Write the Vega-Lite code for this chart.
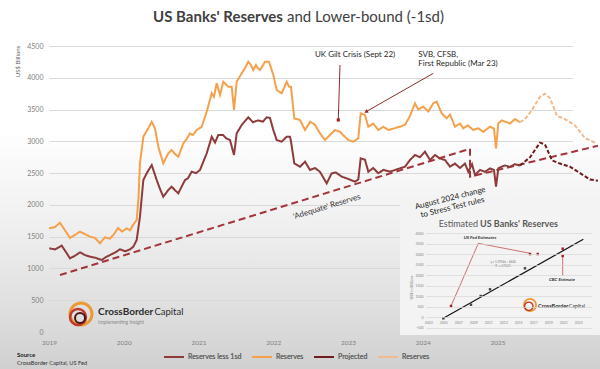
{
"$schema":"https://vega.github.io/schema/vega-lite/v6.json",
"width":600,"height":369,"autosize":"none","padding":0,
"background":"#d4d4d4",
"config":{"view":{"stroke":null,"fill":{"gradient":"linear","x1":0,"y1":0,"x2":0,"y2":1,"stops":[{"offset":0,"color":"#ffffff"},{"offset":0.35,"color":"#ffffff"},{"offset":0.6,"color":"#f0f0f0"},{"offset":0.85,"color":"#dedede"},{"offset":1,"color":"#d0d0d0"}]}},"font":"Lato","text":{"font":"Lato"}},
"datasets":{
"main":[
{"s":"Reserves less 1sd","t":2019.004,"v":1317},{"s":"Reserves less 1sd","t":2019.080,"v":1300},{"s":"Reserves less 1sd","t":2019.170,"v":1358},{"s":"Reserves less 1sd","t":2019.214,"v":1280},{"s":"Reserves less 1sd","t":2019.281,"v":1159},{"s":"Reserves less 1sd","t":2019.348,"v":1200},{"s":"Reserves less 1sd","t":2019.415,"v":1254},{"s":"Reserves less 1sd","t":2019.482,"v":1210},{"s":"Reserves less 1sd","t":2019.548,"v":1185},{"s":"Reserves less 1sd","t":2019.615,"v":1170},{"s":"Reserves less 1sd","t":2019.705,"v":1133},{"s":"Reserves less 1sd","t":2019.763,"v":1180},{"s":"Reserves less 1sd","t":2019.816,"v":1211},{"s":"Reserves less 1sd","t":2019.883,"v":1250},{"s":"Reserves less 1sd","t":2019.950,"v":1301},{"s":"Reserves less 1sd","t":2020.017,"v":1270},{"s":"Reserves less 1sd","t":2020.084,"v":1300},{"s":"Reserves less 1sd","t":2020.128,"v":1342},{"s":"Reserves less 1sd","t":2020.173,"v":1447},{"s":"Reserves less 1sd","t":2020.217,"v":1814},{"s":"Reserves less 1sd","t":2020.262,"v":2391},{"s":"Reserves less 1sd","t":2020.307,"v":2497},{"s":"Reserves less 1sd","t":2020.374,"v":2627},{"s":"Reserves less 1sd","t":2020.441,"v":2391},{"s":"Reserves less 1sd","t":2020.485,"v":2250},{"s":"Reserves less 1sd","t":2020.529,"v":2129},{"s":"Reserves less 1sd","t":2020.596,"v":2234},{"s":"Reserves less 1sd","t":2020.641,"v":2286},{"s":"Reserves less 1sd","t":2020.686,"v":2230},{"s":"Reserves less 1sd","t":2020.730,"v":2182},{"s":"Reserves less 1sd","t":2020.819,"v":2391},{"s":"Reserves less 1sd","t":2020.860,"v":2420},{"s":"Reserves less 1sd","t":2020.909,"v":2522},{"s":"Reserves less 1sd","t":2020.967,"v":2500},{"s":"Reserves less 1sd","t":2021.020,"v":2549},{"s":"Reserves less 1sd","t":2021.110,"v":2812},{"s":"Reserves less 1sd","t":2021.177,"v":3073},{"s":"Reserves less 1sd","t":2021.221,"v":2980},{"s":"Reserves less 1sd","t":2021.265,"v":3100},{"s":"Reserves less 1sd","t":2021.328,"v":3100},{"s":"Reserves less 1sd","t":2021.368,"v":3050},{"s":"Reserves less 1sd","t":2021.421,"v":3021},{"s":"Reserves less 1sd","t":2021.475,"v":2785},{"s":"Reserves less 1sd","t":2021.511,"v":3126},{"s":"Reserves less 1sd","t":2021.578,"v":3257},{"s":"Reserves less 1sd","t":2021.666,"v":3378},{"s":"Reserves less 1sd","t":2021.729,"v":3300},{"s":"Reserves less 1sd","t":2021.796,"v":3330},{"s":"Reserves less 1sd","t":2021.863,"v":3310},{"s":"Reserves less 1sd","t":2021.912,"v":3378},{"s":"Reserves less 1sd","t":2021.956,"v":3370},{"s":"Reserves less 1sd","t":2022.001,"v":3178},{"s":"Reserves less 1sd","t":2022.046,"v":3021},{"s":"Reserves less 1sd","t":2022.113,"v":2995},{"s":"Reserves less 1sd","t":2022.180,"v":3073},{"s":"Reserves less 1sd","t":2022.224,"v":3073},{"s":"Reserves less 1sd","t":2022.237,"v":3000},{"s":"Reserves less 1sd","t":2022.282,"v":2654},{"s":"Reserves less 1sd","t":2022.358,"v":2600},{"s":"Reserves less 1sd","t":2022.425,"v":2680},{"s":"Reserves less 1sd","t":2022.492,"v":2549},{"s":"Reserves less 1sd","t":2022.559,"v":2580},{"s":"Reserves less 1sd","t":2022.625,"v":2520},{"s":"Reserves less 1sd","t":2022.715,"v":2339},{"s":"Reserves less 1sd","t":2022.782,"v":2497},{"s":"Reserves less 1sd","t":2022.839,"v":2510},{"s":"Reserves less 1sd","t":2022.916,"v":2444},{"s":"Reserves less 1sd","t":2023.000,"v":2410},{"s":"Reserves less 1sd","t":2023.094,"v":2365},{"s":"Reserves less 1sd","t":2023.138,"v":2400},{"s":"Reserves less 1sd","t":2023.170,"v":2733},{"s":"Reserves less 1sd","t":2023.227,"v":2710},{"s":"Reserves less 1sd","t":2023.272,"v":2522},{"s":"Reserves less 1sd","t":2023.338,"v":2580},{"s":"Reserves less 1sd","t":2023.405,"v":2497},{"s":"Reserves less 1sd","t":2023.472,"v":2550},{"s":"Reserves less 1sd","t":2023.562,"v":2522},{"s":"Reserves less 1sd","t":2023.656,"v":2560},{"s":"Reserves less 1sd","t":2023.763,"v":2601},{"s":"Reserves less 1sd","t":2023.829,"v":2706},{"s":"Reserves less 1sd","t":2023.896,"v":2785},{"s":"Reserves less 1sd","t":2023.963,"v":2750},{"s":"Reserves less 1sd","t":2024.030,"v":2837},{"s":"Reserves less 1sd","t":2024.097,"v":2706},{"s":"Reserves less 1sd","t":2024.164,"v":2785},{"s":"Reserves less 1sd","t":2024.231,"v":2730},{"s":"Reserves less 1sd","t":2024.298,"v":2706},{"s":"Reserves less 1sd","t":2024.365,"v":2601},{"s":"Reserves less 1sd","t":2024.431,"v":2650},{"s":"Reserves less 1sd","t":2024.498,"v":2580},{"s":"Reserves less 1sd","t":2024.565,"v":2650},{"s":"Reserves less 1sd","t":2024.609,"v":2522},{"s":"Reserves less 1sd","t":2024.659,"v":2640},{"s":"Reserves less 1sd","t":2024.699,"v":2470},{"s":"Reserves less 1sd","t":2024.766,"v":2550},{"s":"Reserves less 1sd","t":2024.833,"v":2520},{"s":"Reserves less 1sd","t":2024.900,"v":2575},{"s":"Reserves less 1sd","t":2024.953,"v":2550},{"s":"Reserves less 1sd","t":2024.980,"v":2286},{"s":"Reserves less 1sd","t":2025.011,"v":2575},{"s":"Reserves less 1sd","t":2025.056,"v":2601},{"s":"Reserves less 1sd","t":2025.100,"v":2620},{"s":"Reserves less 1sd","t":2025.167,"v":2600},{"s":"Reserves less 1sd","t":2025.234,"v":2640},{"s":"Reserves less 1sd","t":2025.301,"v":2620},
{"s":"Reserves","t":2019.000,"v":1631},{"s":"Reserves","t":2019.080,"v":1650},{"s":"Reserves","t":2019.147,"v":1720},{"s":"Reserves","t":2019.214,"v":1600},{"s":"Reserves","t":2019.281,"v":1479},{"s":"Reserves","t":2019.348,"v":1530},{"s":"Reserves","t":2019.415,"v":1578},{"s":"Reserves","t":2019.482,"v":1540},{"s":"Reserves","t":2019.548,"v":1500},{"s":"Reserves","t":2019.615,"v":1480},{"s":"Reserves","t":2019.682,"v":1395},{"s":"Reserves","t":2019.749,"v":1490},{"s":"Reserves","t":2019.816,"v":1470},{"s":"Reserves","t":2019.870,"v":1540},{"s":"Reserves","t":2019.923,"v":1636},{"s":"Reserves","t":2019.977,"v":1580},{"s":"Reserves","t":2020.039,"v":1630},{"s":"Reserves","t":2020.084,"v":1600},{"s":"Reserves","t":2020.124,"v":1683},{"s":"Reserves","t":2020.173,"v":1762},{"s":"Reserves","t":2020.197,"v":2100},{"s":"Reserves","t":2020.217,"v":2659},{"s":"Reserves","t":2020.262,"v":3073},{"s":"Reserves","t":2020.328,"v":3205},{"s":"Reserves","t":2020.374,"v":3309},{"s":"Reserves","t":2020.418,"v":3200},{"s":"Reserves","t":2020.462,"v":2916},{"s":"Reserves","t":2020.529,"v":2654},{"s":"Reserves","t":2020.596,"v":2812},{"s":"Reserves","t":2020.641,"v":2864},{"s":"Reserves","t":2020.686,"v":2800},{"s":"Reserves","t":2020.730,"v":2758},{"s":"Reserves","t":2020.797,"v":2969},{"s":"Reserves","t":2020.833,"v":3020},{"s":"Reserves","t":2020.886,"v":3126},{"s":"Reserves","t":2020.926,"v":3100},{"s":"Reserves","t":2020.976,"v":3178},{"s":"Reserves","t":2021.043,"v":3230},{"s":"Reserves","t":2021.110,"v":3466},{"s":"Reserves","t":2021.177,"v":3756},{"s":"Reserves","t":2021.207,"v":3700},{"s":"Reserves","t":2021.243,"v":3913},{"s":"Reserves","t":2021.288,"v":3729},{"s":"Reserves","t":2021.332,"v":3938},{"s":"Reserves","t":2021.399,"v":3860},{"s":"Reserves","t":2021.444,"v":3860},{"s":"Reserves","t":2021.475,"v":3493},{"s":"Reserves","t":2021.511,"v":3938},{"s":"Reserves","t":2021.578,"v":4070},{"s":"Reserves","t":2021.622,"v":4150},{"s":"Reserves","t":2021.666,"v":4253},{"s":"Reserves","t":2021.702,"v":4200},{"s":"Reserves","t":2021.733,"v":4122},{"s":"Reserves","t":2021.769,"v":4200},{"s":"Reserves","t":2021.796,"v":4150},{"s":"Reserves","t":2021.823,"v":4122},{"s":"Reserves","t":2021.863,"v":4200},{"s":"Reserves","t":2021.890,"v":4253},{"s":"Reserves","t":2021.943,"v":4253},{"s":"Reserves","t":2022.001,"v":4044},{"s":"Reserves","t":2022.046,"v":3808},{"s":"Reserves","t":2022.113,"v":3756},{"s":"Reserves","t":2022.180,"v":3938},{"s":"Reserves","t":2022.211,"v":3860},{"s":"Reserves","t":2022.237,"v":3860},{"s":"Reserves","t":2022.282,"v":3360},{"s":"Reserves","t":2022.358,"v":3336},{"s":"Reserves","t":2022.425,"v":3178},{"s":"Reserves","t":2022.492,"v":3309},{"s":"Reserves","t":2022.559,"v":3260},{"s":"Reserves","t":2022.625,"v":3126},{"s":"Reserves","t":2022.692,"v":3021},{"s":"Reserves","t":2022.759,"v":3100},{"s":"Reserves","t":2022.826,"v":3178},{"s":"Reserves","t":2022.893,"v":3150},{"s":"Reserves","t":2022.933,"v":3100},{"s":"Reserves","t":2023.004,"v":3021},{"s":"Reserves","t":2023.071,"v":2995},{"s":"Reserves","t":2023.138,"v":3047},{"s":"Reserves","t":2023.170,"v":3441},{"s":"Reserves","t":2023.227,"v":3414},{"s":"Reserves","t":2023.272,"v":3230},{"s":"Reserves","t":2023.338,"v":3280},{"s":"Reserves","t":2023.405,"v":3178},{"s":"Reserves","t":2023.472,"v":3230},{"s":"Reserves","t":2023.539,"v":3178},{"s":"Reserves","t":2023.606,"v":3200},{"s":"Reserves","t":2023.696,"v":3230},{"s":"Reserves","t":2023.763,"v":3260},{"s":"Reserves","t":2023.829,"v":3400},{"s":"Reserves","t":2023.896,"v":3598},{"s":"Reserves","t":2023.940,"v":3500},{"s":"Reserves","t":2024.007,"v":3545},{"s":"Reserves","t":2024.074,"v":3470},{"s":"Reserves","t":2024.141,"v":3598},{"s":"Reserves","t":2024.187,"v":3624},{"s":"Reserves","t":2024.253,"v":3441},{"s":"Reserves","t":2024.320,"v":3362},{"s":"Reserves","t":2024.365,"v":3420},{"s":"Reserves","t":2024.431,"v":3230},{"s":"Reserves","t":2024.498,"v":3280},{"s":"Reserves","t":2024.543,"v":3205},{"s":"Reserves","t":2024.605,"v":3250},{"s":"Reserves","t":2024.676,"v":3178},{"s":"Reserves","t":2024.739,"v":3205},{"s":"Reserves","t":2024.810,"v":3150},{"s":"Reserves","t":2024.900,"v":3230},{"s":"Reserves","t":2024.953,"v":3200},{"s":"Reserves","t":2024.980,"v":2890},{"s":"Reserves","t":2025.011,"v":3283},{"s":"Reserves","t":2025.056,"v":3330},{"s":"Reserves","t":2025.100,"v":3310},{"s":"Reserves","t":2025.167,"v":3280},{"s":"Reserves","t":2025.234,"v":3350},{"s":"Reserves","t":2025.301,"v":3300},
{"s":"Reserves ","t":2025.301,"v":3300},{"s":"Reserves ","t":2025.368,"v":3350},{"s":"Reserves ","t":2025.435,"v":3450},{"s":"Reserves ","t":2025.569,"v":3700},{"s":"Reserves ","t":2025.635,"v":3750},{"s":"Reserves ","t":2025.702,"v":3680},{"s":"Reserves ","t":2025.796,"v":3400},{"s":"Reserves ","t":2025.903,"v":3350},{"s":"Reserves ","t":2026.037,"v":3250},{"s":"Reserves ","t":2026.171,"v":3050},{"s":"Reserves ","t":2026.304,"v":2980},
{"s":"Projected","t":2025.301,"v":2620},{"s":"Projected","t":2025.435,"v":2750},{"s":"Projected","t":2025.569,"v":2980},{"s":"Projected","t":2025.635,"v":2950},{"s":"Projected","t":2025.729,"v":2700},{"s":"Projected","t":2025.836,"v":2650},{"s":"Projected","t":2025.970,"v":2600},{"s":"Projected","t":2026.104,"v":2500},{"s":"Projected","t":2026.237,"v":2400},{"s":"Projected","t":2026.344,"v":2380}
],
"adequate":[{"o":1,"t":2019.147,"v":897},{"o":2,"t":2024.632,"v":2882},{"o":3,"t":2024.632,"v":2444},{"o":4,"t":2026.344,"v":2930}],
"arrows":[{"t":2022.893,"v":4201,"t2":2022.870,"v2":3336},{"t":2024.141,"v":4070,"t2":2023.241,"v2":3466}],
"ipts":[{"k":"fit","ix":2005.0,"iy":-52},{"k":"fit","ix":2008.69,"iy":596},{"k":"fit","ix":2009.99,"iy":1011},{"k":"fit","ix":2011.23,"iy":1330},{"k":"fit","ix":2015.89,"iy":2331},{"k":"est","ix":2006.03,"iy":534},{"k":"est","ix":2016.56,"iy":3013},{"k":"est","ix":2017.59,"iy":3013},{"k":"est","ix":2020.92,"iy":3266},{"k":"est","ix":2020.92,"iy":2918}],
"ilinks":[{"ix":2006.03,"iy":534,"ix2":2009.67,"iy2":3523},{"ix":2009.67,"iy":3523,"ix2":2016.56,"iy2":3047},{"ix":2020.92,"iy":2918,"ix2":2020.92,"iy2":1965}]
},
"layer":[
{
"encoding":{
"x":{"field":"ix","type":"quantitative","scale":{"domain":[2002.7,2024.8],"range":[426.05,591.8],"zero":false,"nice":false},"axis":{"orient":"bottom","values":[2003,2005,2007,2009,2011,2013,2015,2017,2019,2021,2023,2025],"format":"d","grid":false,"domain":false,"ticks":false,"tickSize":0,"labelPadding":0,"offset":-49,"labelBaseline":"top","labelFontSize":3.5,"labelColor":"#888888","title":null,"labelOverlap":false,"labelFlush":false,"zindex":1}},
"y":{"field":"iy","type":"quantitative","scale":{"domain":[-500,4000],"range":[327.7,233.3],"zero":false,"nice":false},"axis":{"orient":"left","values":[-500,0,500,1000,1500,2000,2500,3000,3500,4000],"format":"d","grid":true,"gridColor":"#d6d6d6","gridWidth":0.7,"domain":false,"ticks":false,"tickSize":0,"labelPadding":0,"offset":-423,"labelFontSize":3.5,"labelColor":"#888888","labelFlush":false,"title":"US$ in Billions","titleFontSize":3.8,"titleFontWeight":"normal","titleColor":"#777777","titleX":-11.3,"titleY":287,"titleAngle":270,"titleAlign":"center","titleBaseline":"middle","zindex":1}}
},
"layer":[
{"data":{"values":[{"ix":1999.23,"iy":-846,"ix2":2025.89,"iy2":5349}]},"mark":{"type":"rect","color":"#f3f3f3","opacity":1},"encoding":{"x2":{"field":"ix2"},"y2":{"field":"iy2"}}},
{"data":{"values":[{"ix":2005.0,"iy":-52},{"ix":2023.67,"iy":3714}]},"mark":{"type":"line","color":"#111111","strokeWidth":1.2}},
{"data":{"name":"ilinks"},"mark":{"type":"rule","color":"#c0504d","strokeWidth":0.8},"encoding":{"x2":{"field":"ix2"},"y2":{"field":"iy2"}}},
{"data":{"name":"ipts"},"mark":{"type":"point","shape":"square","filled":true,"size":6,"opacity":1},"encoding":{"color":{"field":"k","type":"nominal","scale":{"domain":["fit","est"],"range":["#444444","#a01e1e"]},"legend":null}}},
{"data":{"values":[{"ix":2009.89,"iy":3776,"label":"US Fed Estimates"}]},"mark":{"type":"text","fontSize":4.5,"fontStyle":"italic","fontWeight":"bold","color":"#333333","align":"center","baseline":"middle"},"encoding":{"text":{"field":"label"}}},
{"data":{"values":[{"ix":2020.83,"iy":1773,"label":"CBC Estimate"}]},"mark":{"type":"text","fontSize":4.5,"fontStyle":"italic","fontWeight":"bold","color":"#333333","align":"center","baseline":"middle"},"encoding":{"text":{"field":"label"}}},
{"data":{"values":[{"ix":2012.96,"iy":2646,"label":"y = 1.2954x - 4444"},{"ix":2012.96,"iy":2441,"label":"R² = 0.9625"}]},"mark":{"type":"text","fontSize":3,"color":"#777777","align":"center","baseline":"middle"},"encoding":{"text":{"field":"label"}}},
{"data":{"values":[{"ix":2009.63,"iy":4449,"label":"Estimated"}]},"mark":{"type":"text","fontSize":9,"color":"#595959","align":"right","baseline":"middle"},"encoding":{"text":{"field":"label"}}},
{"data":{"values":[{"ix":2009.89,"iy":4449,"label":"US Banks' Reserves"}]},"mark":{"type":"text","fontSize":9,"fontWeight":"bold","color":"#595959","align":"left","baseline":"middle"},"encoding":{"text":{"field":"label"}}},
{"data":{"values":[{"ix":2016.56,"iy":582}]},"mark":{"type":"point","shape":"circle","filled":false,"color":"#eb9a33","strokeWidth":1.8,"size":150,"opacity":1}},
{"data":{"values":[{"ix":2016.4,"iy":520}]},"mark":{"type":"point","shape":"circle","filled":false,"color":"#c0392b","strokeWidth":1.4,"size":70,"opacity":1}},
{"data":{"values":[{"ix":2017.63,"iy":534,"label":"CrossBorder"}]},"mark":{"type":"text","fontSize":5.5,"fontWeight":"bold","color":"#2b2b2b","align":"left","baseline":"middle"},"encoding":{"text":{"field":"label"}}},
{"data":{"values":[{"ix":2021.72,"iy":534,"label":"Capital"}]},"mark":{"type":"text","fontSize":5.3,"color":"#2b2b2b","align":"left","baseline":"middle"},"encoding":{"text":{"field":"label"}}}
]
},
{
"encoding":{
"x":{"field":"t","type":"quantitative","scale":{"domain":[2019,2026],"range":[49,572.25],"zero":false,"nice":false},"axis":{"orient":"bottom","values":[2019,2020,2021,2022,2023,2024,2025],"format":"d","grid":false,"domain":false,"ticks":false,"tickSize":0,"labelPadding":0,"offset":-27,"labelBaseline":"middle","labelFontSize":6.5,"labelColor":"#808080","title":null,"labelFlush":false,"labelOverlap":false}},
"y":{"field":"v","type":"quantitative","scale":{"domain":[0,4500],"range":[332,46],"zero":false,"nice":false},"axis":{"orient":"left","values":[0,500,1000,1500,2000,2500,3000,3500,4000,4500],"format":"d","grid":true,"gridColor":"#d9d9d9","gridWidth":1,"domain":false,"ticks":false,"tickSize":0,"labelPadding":0,"offset":-43,"labelFontSize":7,"labelColor":"#808080","labelFlush":false,"title":"US$ Billions","titleFontSize":6,"titleFontWeight":"normal","titleColor":"#666666","titleX":-25.5,"titleY":61,"titleAngle":270,"titleAlign":"center","titleBaseline":"middle"}}
},
"layer":[
{"data":{"name":"adequate"},"mark":{"type":"line","color":"#a3353a","strokeWidth":2,"strokeDash":[7,4]},"encoding":{"order":{"field":"o","type":"quantitative"}}},
{"data":{"name":"main"},"mark":{"type":"line","strokeWidth":2},"encoding":{
"color":{"field":"s","type":"nominal","scale":{"domain":["Reserves less 1sd","Reserves","Projected","Reserves "],"range":["#8e3b3b","#f5a04a","#6e1c1c","#f3b98a"]},"legend":{"orient":"none","legendX":163,"legendY":346,"direction":"horizontal","title":null,"symbolType":"stroke","symbolSize":400,"symbolStrokeWidth":2,"labelFontSize":7,"labelColor":"#666666","columnPadding":6,"labelOffset":3,"padding":0}},
"strokeDash":{"field":"s","type":"nominal","scale":{"domain":["Reserves less 1sd","Reserves","Projected","Reserves "],"range":[[1,0],[1,0],[4,2],[4,2]]},"legend":{"orient":"none","legendX":163,"legendY":346,"direction":"horizontal","title":null,"symbolType":"stroke","symbolSize":400,"symbolStrokeWidth":2,"labelFontSize":7,"labelColor":"#666666","columnPadding":6,"labelOffset":3,"padding":0}}}},
{"data":{"name":"arrows"},"mark":{"type":"rule","color":"#8e2b2b","strokeWidth":1},"encoding":{"x2":{"field":"t2"},"y2":{"field":"v2"}}},
{"data":{"values":[{"t":2022.870,"v":3336}]},"mark":{"type":"point","shape":"square","filled":true,"color":"#a02020","size":10,"opacity":1}},
{"data":{"values":[{"t":2023.241,"v":3466}]},"mark":{"type":"point","shape":"triangle-up","filled":true,"color":"#8e2b2b","size":18,"angle":240,"opacity":1}},
{"data":{"values":[{"t":2023.094,"v":4358,"label":"UK Gilt Crisis (Sept 22)"}]},"mark":{"type":"text","fontSize":8,"color":"#1f1f1f","align":"center","baseline":"middle"},"encoding":{"text":{"field":"label"}}},
{"data":{"values":[{"t":2023.940,"v":4358,"label":"SVB, CFSB,"},{"t":2023.940,"v":4217,"label":"First Republic (Mar 23)"}]},"mark":{"type":"text","fontSize":8,"color":"#1f1f1f","align":"left","baseline":"middle"},"encoding":{"text":{"field":"label"}}},
{"data":{"values":[{"t":2022.719,"v":1967,"label":"'Adequate' Reserves"}]},"mark":{"type":"text","fontSize":8,"color":"#333333","align":"center","baseline":"middle","angle":-17},"encoding":{"text":{"field":"label"}}},
{"data":{"values":[{"t":2024.369,"v":2100,"label":"August 2024 change\nto Stress Test rules"}]},"mark":{"type":"text","fontSize":8,"color":"#222222","align":"center","baseline":"middle","angle":-14,"lineBreak":"\n","lineHeight":9.5},"encoding":{"text":{"field":"label"}}},
{"data":{"values":[{"t":2022.130,"v":4956,"label":"US Banks' Reserves"}]},"mark":{"type":"text","fontSize":15,"fontWeight":"bold","color":"#404040","align":"right","baseline":"middle"},"encoding":{"text":{"field":"label"}}},
{"data":{"values":[{"t":2022.184,"v":4956,"label":"and Lower-bound (-1sd)"}]},"mark":{"type":"text","fontSize":15,"color":"#404040","align":"left","baseline":"middle"},"encoding":{"text":{"field":"label"}}},
{"data":{"values":[{"t":2018.572,"v":-362,"label":"Source"}]},"mark":{"type":"text","fontSize":6,"fontWeight":"bold","color":"#222222","align":"left","baseline":"middle"},"encoding":{"text":{"field":"label"}}},
{"data":{"values":[{"t":2018.572,"v":-488,"label":"CrossBorder Capital, US Fed"}]},"mark":{"type":"text","fontSize":5.7,"color":"#333333","align":"left","baseline":"middle"},"encoding":{"text":{"field":"label"}}},
{"data":{"values":[{"t":2019.428,"v":283}]},"mark":{"type":"point","shape":"circle","filled":false,"color":"#eb9a33","strokeWidth":3,"size":484,"opacity":1}},
{"data":{"values":[{"t":2019.388,"v":236}]},"mark":{"type":"point","shape":"circle","filled":false,"color":"#c0392b","strokeWidth":2.5,"size":256,"opacity":1}},
{"data":{"values":[{"t":2019.415,"v":220}]},"mark":{"type":"point","shape":"circle","filled":false,"color":"#4a1414","strokeWidth":2,"size":100,"opacity":1}},
{"data":{"values":[{"t":2019.656,"v":315,"label":"CrossBorder"}]},"mark":{"type":"text","fontSize":10,"fontWeight":"bold","color":"#2b2b2b","align":"left","baseline":"middle"},"encoding":{"text":{"field":"label"}}},
{"data":{"values":[{"t":2020.41,"v":315,"label":"Capital"}]},"mark":{"type":"text","fontSize":9.5,"color":"#2b2b2b","align":"left","baseline":"middle"},"encoding":{"text":{"field":"label"}}},
{"data":{"values":[{"t":2019.656,"v":157,"label":"Implementing Insight"}]},"mark":{"type":"text","fontSize":5,"color":"#8a8a8a","align":"left","baseline":"middle"},"encoding":{"text":{"field":"label"}}}
]
}
],
"resolve":{"scale":{"x":"independent","y":"independent","color":"independent"},"axis":{"x":"independent","y":"independent"}}
}
